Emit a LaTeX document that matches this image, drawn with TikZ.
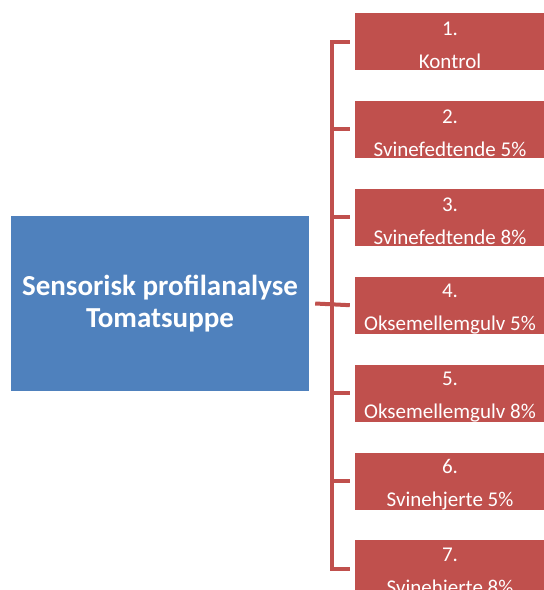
\documentclass[tikz,border=0pt]{standalone}
\usepackage{fontspec}
\setmainfont{Carlito}
\usetikzlibrary{positioning}
\definecolor{mainblue}{HTML}{4F81BD}
\definecolor{itemred}{HTML}{C0504D}
\tikzstyle{topic} = [rectangle, minimum width=298pt, minimum height=175pt, text centered, align=center, fill=mainblue, text=white, font=\fontsize{29}{32}\selectfont\bfseries]
\tikzstyle{sample} = [rectangle, minimum width=190pt, minimum height=57pt, inner sep=0pt, fill=itemred]
\tikzstyle{sampletext} = [text=white, align=center, yshift=-4pt, font=\fontsize{21}{33}\selectfont]
\tikzstyle{bracket} = [line width=4pt, color=itemred]

\begin{document}
\begin{tikzpicture}[x=1pt, y=-1pt, node distance=30.5pt]
    \useasboundingbox (0,0) rectangle (544,590);
    \clip (0,0) rectangle (544,590);
    % Nodes
    \node (topic) [topic] at (160,303.5) {Sensorisk profilanalyse\\Tomatsuppe};
    \node (s1) [sample, label={[sampletext]center:1.\\Kontrol}] at (450,41.5) {};
    \node (s2) [sample, below=of s1, label={[sampletext]center:2.\\Svinefedtende 5\%}] {};
    \node (s3) [sample, below=of s2, label={[sampletext]center:3.\\Svinefedtende 8\%}] {};
    \node (s4) [sample, below=of s3, label={[sampletext]center:4.\\Oksemellemgulv 5\%}] {};
    \node (s5) [sample, below=of s4, label={[sampletext]center:5.\\Oksemellemgulv 8\%}] {};
    \node (s6) [sample, below=of s5, label={[sampletext]center:6.\\Svinehjerte 5\%}] {};
    \node (s7) [sample, below=of s6, label={[sampletext]center:7.\\Svinehjerte 8\%}] {};

    % Bracket
    \draw [bracket] ([xshift=-5pt]s1.west) -- ++(-18,0) |- ([xshift=-5pt]s7.west);
    \draw [bracket] ([xshift=-5pt]s2.west) -- ++(-18,0);
    \draw [bracket] ([xshift=-5pt]s3.west) -- ++(-18,0);
    \draw [bracket] ([xshift=6pt]topic.east) -- ([xshift=-5pt]s4.west);
    \draw [bracket] ([xshift=-5pt]s5.west) -- ++(-18,0);
    \draw [bracket] ([xshift=-5pt]s6.west) -- ++(-18,0);
\end{tikzpicture}
\end{document}
